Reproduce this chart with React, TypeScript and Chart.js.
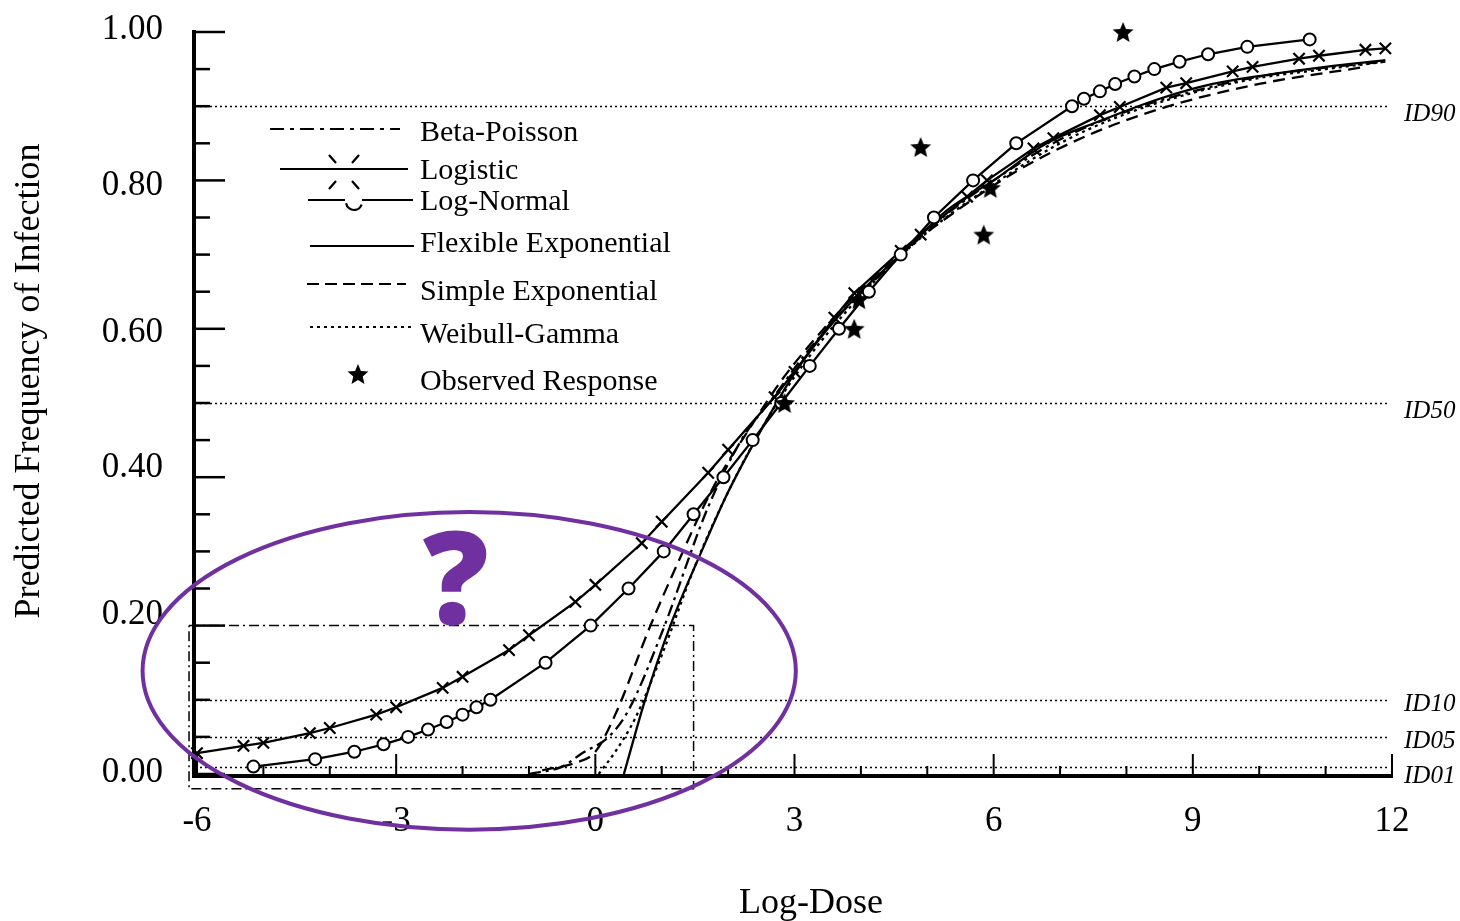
import React, { useEffect, useRef } from "react";
import { Chart, registerables } from "chart.js";

Chart.register(...registerables);

// ---------- data ----------
const logisticX = [-6.0, -5.3, -5.0, -4.3, -4.0, -3.3, -3.0, -2.3, -2.0, -1.3, -1.0, -0.3, 0.0, 0.7, 1.0, 1.7, 2.0, 2.7, 3.0, 3.6, 3.9, 4.6, 4.9, 5.6, 5.9, 6.6, 6.9, 7.6, 7.9, 8.6, 8.9, 9.6, 9.9, 10.6, 10.9, 11.6, 11.9];
const logisticY = [0.028, 0.038, 0.042, 0.055, 0.062, 0.08, 0.09, 0.116, 0.131, 0.167, 0.187, 0.232, 0.255, 0.311, 0.34, 0.406, 0.437, 0.508, 0.542, 0.615, 0.648, 0.705, 0.727, 0.778, 0.80, 0.843, 0.857, 0.888, 0.899, 0.925, 0.931, 0.947, 0.953, 0.964, 0.968, 0.976, 0.978];

const logNormalX = [-5.15, -4.22, -3.63, -3.19, -2.82, -2.52, -2.24, -2.0, -1.79, -1.58, -0.75, -0.07, 0.5, 1.03, 1.48, 1.93, 2.37, 2.8, 3.23, 3.67, 4.12, 4.6, 5.1, 5.69, 6.34, 7.18, 7.36, 7.6, 7.83, 8.12, 8.42, 8.8, 9.23, 9.82, 10.76];
const logNormalY = [0.01, 0.02, 0.03, 0.04, 0.05, 0.06, 0.07, 0.08, 0.09, 0.10, 0.15, 0.20, 0.25, 0.30, 0.35, 0.40, 0.45, 0.50, 0.55, 0.60, 0.65, 0.70, 0.75, 0.80, 0.85, 0.90, 0.91, 0.92, 0.93, 0.94, 0.95, 0.96, 0.97, 0.98, 0.99];

const betaPoissonX = [-1.0, -0.5, -0.2, 0.2, 0.5, 1.0, 1.7, 2.2, 2.7, 3.2, 3.8, 4.5, 5.3, 6.0, 7.0, 8.0, 9.0, 10.0, 11.0, 11.9];
const betaPoissonY = [0.0, 0.01, 0.028, 0.05, 0.086, 0.19, 0.36, 0.45, 0.51, 0.57, 0.63, 0.69, 0.755, 0.80, 0.855, 0.893, 0.92, 0.94, 0.952, 0.96];

const flexExpX = [0.43, 0.75, 1.13, 1.6, 2.0, 2.6, 3.0, 3.5, 4.0, 4.6, 5.3, 6.0, 6.8, 7.6, 8.5, 9.3, 10.1, 11.0, 11.9];
const flexExpY = [0.0, 0.1, 0.2, 0.3, 0.38, 0.48, 0.54, 0.6, 0.65, 0.70, 0.76, 0.80, 0.85, 0.88, 0.91, 0.93, 0.942, 0.953, 0.962];

const simpleExpX = [-0.8, -0.3, 0.0, 0.3, 0.83, 1.24, 1.78, 2.34, 2.8, 3.2, 3.8, 4.5, 5.3, 6.3, 7.4, 8.6, 10.0, 11.6];
const simpleExpY = [0.005, 0.015, 0.03, 0.08, 0.2, 0.284, 0.387, 0.468, 0.53, 0.575, 0.635, 0.695, 0.75, 0.81, 0.86, 0.899, 0.93, 0.953];

const weibullX = [0.05, 0.3, 0.6, 1.0, 1.5, 2.0, 2.6, 3.2, 4.0, 5.0, 6.0, 7.0, 8.0, 9.0, 10.0, 11.0, 11.9];
const weibullY = [0.0, 0.03, 0.075, 0.16, 0.28, 0.38, 0.48, 0.56, 0.645, 0.73, 0.795, 0.85, 0.89, 0.918, 0.938, 0.95, 0.96];

const observedX = [2.85, 3.9, 3.97, 4.9, 5.85, 5.95, 7.95];
const observedY = [0.50, 0.60, 0.64, 0.845, 0.727, 0.79, 1.0];

// zoom box (dash-dot rectangle) in data units
const zoomBoxX = [-6.12, 1.48, 1.48, -6.12, -6.12];
const zoomBoxY = [0.2, 0.2, -0.02, -0.02, 0.2];

// reference levels
const idLevels = [0.9, 0.5, 0.1, 0.05, 0.01];
const idLabels = ["ID90", "ID50", "ID10", "ID05", "ID01"];

// ticks
const xTickValues = [-6, -3, 0, 3, 6, 9, 12];
const yTickValues = [0, 0.2, 0.4, 0.6, 0.8, 1.0];
const yTickLabels = ["0.00", "0.20", "0.40", "0.60", "0.80", "1.00"];

const xTitle = "Log-Dose";
const yTitle = "Predicted Frequency of Infection";

const legendLabels = ["Beta-Poisson", "Logistic", "Log-Normal", "Flexible Exponential", "Simple Exponential", "Weibull-Gamma", "Observed Response"];

// annotation (purple ellipse + question mark), in data units
const ellipseNote = { cx: -1.9, cy: 0.139, rx: 4.92, ry: 0.214 };
const questionNote = { x: -2.1, y: 0.252, text: "?" };

const PURPLE = "#7030A0";
const SERIF = '"Liberation Serif", "DejaVu Serif", serif';

function pts(xs: number[], ys: number[]) {
  return xs.map((x, i) => ({ x, y: ys[i] }));
}

function makeStar(r: number) {
  const c = document.createElement("canvas");
  const s = Math.ceil(r * 2 + 2);
  c.width = s;
  c.height = s;
  const g = c.getContext("2d")!;
  g.fillStyle = "#000";
  g.beginPath();
  for (let i = 0; i < 10; i++) {
    const a = -Math.PI / 2 + (i * Math.PI) / 5;
    const rr = i % 2 === 0 ? r : r * 0.45;
    const px = s / 2 + rr * Math.cos(a);
    const py = s / 2 + 1 + rr * Math.sin(a);
    if (i === 0) g.moveTo(px, py);
    else g.lineTo(px, py);
  }
  g.closePath();
  g.fill();
  return c;
}

export default function App() {
  const ref = useRef<HTMLCanvasElement | null>(null);

  useEffect(() => {
    if (!ref.current) return;
    const star = makeStar(11);
    const legendStar = makeStar(11);

    const decor = {
      id: "decor",
      beforeDatasetsDraw(chart: any) {
        const { ctx } = chart;
        const xs = chart.scales.x;
        const ys = chart.scales.y;
        ctx.save();
        ctx.strokeStyle = "#000";
        ctx.lineWidth = 1.6;
        ctx.setLineDash([2, 3]);
        idLevels.forEach((lv) => {
          const py = Math.round(ys.getPixelForValue(lv)) + 0.5;
          ctx.beginPath();
          ctx.moveTo(xs.getPixelForValue(-6) - 2, py);
          ctx.lineTo(xs.getPixelForValue(12) - 4, py);
          ctx.stroke();
        });
        ctx.setLineDash([]);
        ctx.restore();
      },
      afterDraw(chart: any) {
        const { ctx } = chart;
        const xs = chart.scales.x;
        const ys = chart.scales.y;
        const x0 = xs.getPixelForValue(-6) - 3;
        const y0 = ys.getPixelForValue(0) + 2;
        ctx.save();
        ctx.strokeStyle = "#000";
        ctx.fillStyle = "#000";

        // axes
        ctx.lineWidth = 4;
        ctx.beginPath();
        ctx.moveTo(x0, ys.getPixelForValue(1) - 2);
        ctx.lineTo(x0, y0 + 2);
        ctx.stroke();
        ctx.beginPath();
        ctx.moveTo(x0 - 2, y0);
        ctx.lineTo(xs.getPixelForValue(12) + 1, y0);
        ctx.stroke();

        // y ticks (inward)
        ctx.lineWidth = 2.5;
        for (let i = 0; i <= 20; i++) {
          const v = i * 0.05;
          const py = ys.getPixelForValue(v);
          const len = i % 4 === 0 ? 31 : 16;
          ctx.beginPath();
          ctx.moveTo(x0, py);
          ctx.lineTo(x0 + len, py);
          ctx.stroke();
        }
        // x ticks (upward)
        ctx.lineWidth = 2;
        for (let v = -6; v <= 12; v++) {
          const px = xs.getPixelForValue(v);
          const len = v % 3 === 0 ? 22 : 10;
          ctx.beginPath();
          ctx.moveTo(px, y0);
          ctx.lineTo(px, y0 - len);
          ctx.stroke();
        }

        // tick labels
        const yNudge = [-1, -11, -9, 4, 5, -2];
        ctx.font = `35px ${SERIF}`;
        ctx.textAlign = "right";
        ctx.textBaseline = "middle";
        yTickValues.forEach((v, i) => {
          ctx.fillText(yTickLabels[i], 163, ys.getPixelForValue(v) + yNudge[i]);
        });
        ctx.textAlign = "center";
        xTickValues.forEach((v) => {
          ctx.fillText(String(v), xs.getPixelForValue(v), 822);
        });

        // axis titles
        ctx.font = `36px ${SERIF}`;
        ctx.fillText(xTitle, 811, 904);
        ctx.save();
        ctx.translate(30, 381);
        ctx.rotate(-Math.PI / 2);
        ctx.font = `36px ${SERIF}`;
        ctx.fillText(yTitle, 0, 0);
        ctx.restore();

        // ID labels
        ctx.font = `italic 25px ${SERIF}`;
        ctx.textAlign = "left";
        const idNudge = [8, 8, 5, 5, 10];
        idLevels.forEach((lv, i) => {
          ctx.fillText(idLabels[i], 1404, ys.getPixelForValue(lv) + idNudge[i]);
        });

        // legend
        ctx.lineWidth = 2.2;
        const textX = 420;
        const rows = [
          { ty: 133, ly: 129, a: 270, b: 400, dash: [14, 6, 4, 6] },
          { ty: 171, ly: 169, a: 280, b: 408, dash: [] },
          { ty: 202, ly: 200, a: 308, b: 413, dash: [] },
          { ty: 244, ly: 246, a: 310, b: 414, dash: [] },
          { ty: 292, ly: 284, a: 307, b: 406, dash: [12, 6] },
          { ty: 335, ly: 327, a: 310, b: 414, dash: [3, 4] },
          { ty: 382, ly: 374, a: 0, b: 0, dash: [] },
        ];
        rows.forEach((r, i) => {
          ctx.setLineDash(r.dash);
          if (i === 2) {
            ctx.beginPath();
            ctx.moveTo(r.a, r.ly);
            ctx.lineTo(345, r.ly);
            ctx.stroke();
            ctx.setLineDash([]);
            ctx.beginPath();
            ctx.arc(354, r.ly + 2, 8, Math.PI * 0.95, Math.PI * 0.1, true);
            ctx.stroke();
            ctx.beginPath();
            ctx.moveTo(362, r.ly);
            ctx.lineTo(r.b, r.ly);
            ctx.stroke();
          } else if (i < 6) {
            ctx.beginPath();
            ctx.moveTo(r.a, r.ly);
            ctx.lineTo(r.b, r.ly);
            ctx.stroke();
          }
          ctx.setLineDash([]);
          if (i === 1) {
            const cx = 344, cy = 172;
            [[-1, -1], [1, -1], [-1, 1], [1, 1]].forEach(([dx, dy]) => {
              ctx.beginPath();
              ctx.moveTo(cx + dx * 8, cy + dy * 9);
              ctx.lineTo(cx + dx * 15, cy + dy * 17);
              ctx.stroke();
            });
          }
          if (i === 6) {
            ctx.drawImage(legendStar, 358 - legendStar.width / 2, r.ly - legendStar.height / 2);
          }
          ctx.font = `30px ${SERIF}`;
          ctx.textAlign = "left";
          ctx.textBaseline = "middle";
          ctx.fillText(legendLabels[i], textX, r.ty);
        });

        // purple annotation
        const ecx = xs.getPixelForValue(ellipseNote.cx);
        const ecy = ys.getPixelForValue(ellipseNote.cy);
        const erx = xs.getPixelForValue(ellipseNote.cx + ellipseNote.rx) - ecx;
        const ery = ecy - ys.getPixelForValue(ellipseNote.cy + ellipseNote.ry);
        ctx.strokeStyle = PURPLE;
        ctx.lineWidth = 4;
        ctx.beginPath();
        ctx.ellipse(ecx, ecy, erx, ery, 0, 0, Math.PI * 2);
        ctx.stroke();
        ctx.fillStyle = PURPLE;
        ctx.font = `800 130px "Open Sans", "Noto Sans", sans-serif`;
        ctx.textAlign = "center";
        ctx.textBaseline = "middle";
        ctx.fillText(questionNote.text, xs.getPixelForValue(questionNote.x), ys.getPixelForValue(questionNote.y));
        ctx.restore();
      },
    };

    const lineBase = {
      borderColor: "#000",
      borderWidth: 2.3,
      pointRadius: 0,
      fill: false,
      clip: false as any,
    };

    const chart = new Chart(ref.current, {
      type: "line",
      data: {
        datasets: [
          {
            label: "Observed Response",
            data: pts(observedX, observedY),
            showLine: false,
            pointStyle: star as any,
            pointRadius: 11,
            borderColor: "#000",
            backgroundColor: "#000",
            clip: false as any,
          },
          {
            label: "Log-Normal",
            data: pts(logNormalX, logNormalY),
            ...lineBase,
            pointStyle: "circle",
            pointRadius: 6,
            pointBackgroundColor: "#fff",
            pointBorderColor: "#000",
            pointBorderWidth: 2,
            tension: 0,
          },
          {
            label: "Logistic",
            data: pts(logisticX, logisticY),
            ...lineBase,
            pointStyle: "crossRot",
            pointRadius: 8,
            pointBorderColor: "#000",
            pointBorderWidth: 2.2,
            tension: 0,
          },
          {
            label: "Flexible Exponential",
            data: pts(flexExpX, flexExpY),
            ...lineBase,
            cubicInterpolationMode: "monotone",
          },
          {
            label: "Beta-Poisson",
            data: pts(betaPoissonX, betaPoissonY),
            ...lineBase,
            borderDash: [12, 5, 3, 5],
            cubicInterpolationMode: "monotone",
          },
          {
            label: "Simple Exponential",
            data: pts(simpleExpX, simpleExpY),
            ...lineBase,
            borderDash: [12, 7],
            cubicInterpolationMode: "monotone",
          },
          {
            label: "Weibull-Gamma",
            data: pts(weibullX, weibullY),
            ...lineBase,
            borderDash: [3, 4],
            cubicInterpolationMode: "monotone",
          },
          {
            label: "zoom box",
            data: pts(zoomBoxX, zoomBoxY),
            ...lineBase,
            borderWidth: 1.5,
            borderDash: [10, 4, 2, 4],
            tension: 0,
          },
        ] as any,
      },
      options: {
        animation: false,
        responsive: false,
        devicePixelRatio: 1,
        layout: { padding: { left: 197, right: 68, top: 32, bottom: 147 } },
        scales: {
          x: { type: "linear", min: -6, max: 12, display: false },
          y: { type: "linear", min: 0, max: 1, display: false },
        },
        plugins: {
          legend: { display: false },
          tooltip: { enabled: false },
        },
        events: [],
      },
      plugins: [decor],
    });
    return () => chart.destroy();
  }, []);

  return (
    <div style={{ position: "absolute", left: 0, top: 0, width: 1460, height: 921, background: "#fff" }}>
      <canvas ref={ref} width={1460} height={921} />
    </div>
  );
}
